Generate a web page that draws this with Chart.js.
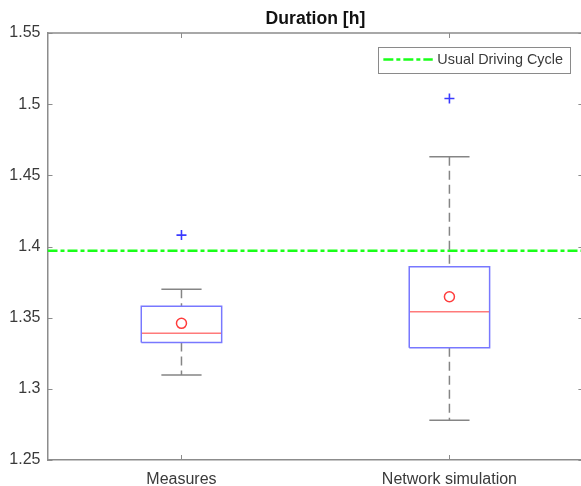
<!DOCTYPE html>
<html>
<head>
<meta charset="utf-8">
<script src="https://cdn.jsdelivr.net/npm/chart.js@4/dist/chart.umd.min.js"></script>
<style>
  html, body { margin: 0; padding: 0; background: #fff; overflow: hidden; }
  #wrap { position: relative; width: 590px; height: 486px; }
</style>
</head>
<body>
<div id="wrap"><canvas id="c"></canvas></div>
<script>
// Box plot summary of trip duration per source
const categories = ['Measures', 'Network simulation'];
const q1 = [1.3326, 1.3289];
const q3 = [1.358, 1.3858];
const medians = [1.339, 1.3542];
const means = [1.346, 1.3647];
const whiskerLow = [1.3097, 1.278];
const whiskerHigh = [1.370, 1.463];
const outliers = [[1.408], [1.504]];
const usualCycle = 1.397;
const yTicks = [1.25, 1.3, 1.35, 1.4, 1.45, 1.5, 1.55];

const FONT = "'Liberation Sans', Arial, Helvetica, sans-serif";
const AXIS_COLOR = '#8c8c8c';
const TEXT_COLOR = '#3a3a3a';
const BOX_HALF = 0.15;
const CAP_HALF = 0.075;

const datasets = [];
categories.forEach((cat, i) => {
  const x = i + 1;
  // box outline
  datasets.push({
    label: cat + ' box',
    data: [
      { x: x - BOX_HALF, y: q1[i] }, { x: x + BOX_HALF, y: q1[i] },
      { x: x + BOX_HALF, y: q3[i] }, { x: x - BOX_HALF, y: q3[i] },
      { x: x - BOX_HALF, y: q1[i] }
    ],
    showLine: true, pointRadius: 0, borderColor: '#7878ff', borderWidth: 1.5
  });
  // median
  datasets.push({
    label: cat + ' median',
    data: [{ x: x - BOX_HALF, y: medians[i] }, { x: x + BOX_HALF, y: medians[i] }],
    showLine: true, pointRadius: 0, borderColor: '#ff7a7a', borderWidth: 1.5
  });
  // whiskers (dashed)
  datasets.push({
    label: cat + ' upper whisker',
    data: [{ x: x, y: whiskerHigh[i] }, { x: x, y: q3[i] }],
    showLine: true, pointRadius: 0, borderColor: '#858585', borderWidth: 1.5, borderDash: [9, 5]
  });
  datasets.push({
    label: cat + ' lower whisker',
    data: [{ x: x, y: q1[i] }, { x: x, y: whiskerLow[i] }],
    showLine: true, pointRadius: 0, borderColor: '#858585', borderWidth: 1.5, borderDash: [9, 5]
  });
  // whisker caps
  [whiskerHigh[i], whiskerLow[i]].forEach((w, k) => {
    datasets.push({
      label: cat + (k ? ' lower cap' : ' upper cap'),
      data: [{ x: x - CAP_HALF, y: w }, { x: x + CAP_HALF, y: w }],
      showLine: true, pointRadius: 0, borderColor: '#858585', borderWidth: 1.5
    });
  });
  // outliers
  datasets.push({
    label: cat + ' outliers',
    data: outliers[i].map(v => ({ x: x, y: v })),
    pointStyle: 'cross', pointRadius: 5, borderColor: '#3a3aff', borderWidth: 1.6,
    backgroundColor: 'transparent'
  });
  // mean
  datasets.push({
    label: cat + ' mean',
    data: [{ x: x, y: means[i] }],
    pointStyle: 'circle', pointRadius: 5, borderColor: '#ff3c3c', borderWidth: 1.5,
    backgroundColor: 'transparent'
  });
});

// reference level
datasets.push({
  label: 'Usual Driving Cycle',
  data: [{ x: 0.5, y: usualCycle }, { x: 2.5, y: usualCycle }],
  showLine: true, pointRadius: 0, borderColor: '#1aff1a', borderWidth: 2.4,
  borderDash: [10, 3, 4, 3]
});

// axes frame with inward ticks, plus the legend box
const framePlugin = {
  id: 'frame',
  afterDraw(chart) {
    const ctx = chart.ctx;
    const a = chart.chartArea;
    const xs = chart.scales.x, ys = chart.scales.y;
    ctx.save();
    ctx.strokeStyle = AXIS_COLOR;
    ctx.lineWidth = 1.5;
    ctx.beginPath();
    ctx.moveTo(a.left, a.top); ctx.lineTo(a.right, a.top);
    ctx.moveTo(a.right, a.top); ctx.lineTo(a.right, a.bottom);
    ctx.stroke();
    ctx.lineWidth = 1;
    ctx.beginPath();
    ys.ticks.forEach(t => {
      const y = Math.round(ys.getPixelForValue(t.value)) + 0.5;
      ctx.moveTo(a.left, y); ctx.lineTo(a.left + 5, y);
      ctx.moveTo(a.right, y); ctx.lineTo(a.right - 5, y);
    });
    xs.ticks.forEach(t => {
      const x = Math.round(xs.getPixelForValue(t.value)) + 0.5;
      ctx.moveTo(x, a.bottom); ctx.lineTo(x, a.bottom - 5);
      ctx.moveTo(x, a.top); ctx.lineTo(x, a.top + 5);
    });
    ctx.stroke();

    // legend
    const ds = chart.data.datasets[chart.data.datasets.length - 1];
    ctx.font = '14.4px ' + FONT;
    const tw = ctx.measureText(ds.label).width;
    const padL = 5.5, lineLen = 49.4, gap = 4.6, padR = 7, h = 25.6;
    const w = padL + lineLen + gap + tw + padR;
    const right = a.right - 13.5;
    const left = right - w;
    const top = a.top + 13.7;
    ctx.fillStyle = '#ffffff';
    ctx.fillRect(left, top, w, h);
    ctx.strokeStyle = '#8a8a8a';
    ctx.lineWidth = 1;
    ctx.strokeRect(Math.round(left) + 0.5, Math.round(top) + 0.5, Math.round(w), Math.round(h));
    const cy = top + h / 2;
    ctx.strokeStyle = ds.borderColor;
    ctx.lineWidth = ds.borderWidth;
    ctx.setLineDash(ds.borderDash);
    ctx.beginPath();
    ctx.moveTo(left + padL, cy); ctx.lineTo(left + padL + lineLen, cy);
    ctx.stroke();
    ctx.setLineDash([]);
    ctx.fillStyle = TEXT_COLOR;
    ctx.textBaseline = 'middle';
    ctx.textAlign = 'left';
    ctx.fillText(ds.label, left + padL + lineLen + gap, cy + 0.5);
    ctx.restore();
  }
};

new Chart(document.getElementById('c'), {
  type: 'scatter',
  data: { datasets },
  plugins: [framePlugin],
  options: {
    responsive: true,
    maintainAspectRatio: false,
    animation: false,
    layout: { padding: { left: 0, right: 4.5, top: 0, bottom: 0 } },
    plugins: {
      legend: { display: false },
      tooltip: { enabled: false },
      title: {
        display: true,
        text: 'Duration [h]',
        fullSize: false,
        color: '#111',
        font: { family: FONT, size: 17.6, weight: 'bold' },
        padding: { top: 9, bottom: 2.9 }
      }
    },
    scales: {
      x: {
        type: 'linear',
        min: 0.5, max: 2.5,
        grid: { display: false, drawTicks: false },
        border: { display: true, color: AXIS_COLOR, width: 1.5 },
        afterBuildTicks: s => { s.ticks = categories.map((c, i) => ({ value: i + 1 })); },
        afterFit: s => { s.height = 26; },
        ticks: {
          color: TEXT_COLOR,
          font: { family: FONT, size: 16 },
          padding: 10,
          maxRotation: 0,
          autoSkip: false,
          callback: v => categories[v - 1]
        }
      },
      y: {
        type: 'linear',
        min: 1.25, max: 1.55,
        grid: { display: false, drawTicks: false },
        border: { display: true, color: AXIS_COLOR, width: 1.5 },
        afterBuildTicks: s => { s.ticks = yTicks.map(v => ({ value: v })); },
        afterFit: s => { s.width = 47.5; },
        ticks: {
          color: TEXT_COLOR,
          font: { family: FONT, size: 16 },
          padding: 7,
          autoSkip: false,
          callback: v => String(+Number(v).toFixed(2))
        }
      }
    }
  }
});
</script>
</body>
</html>
